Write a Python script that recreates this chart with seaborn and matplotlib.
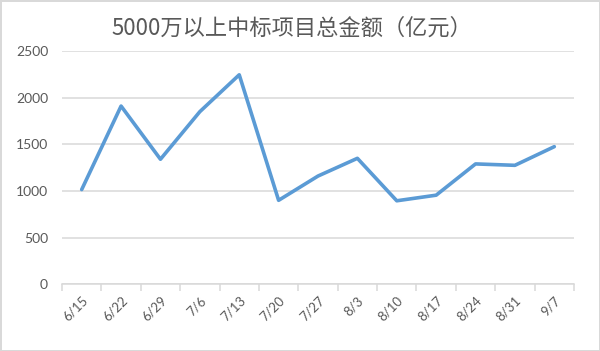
import matplotlib
matplotlib.use("Agg")
import matplotlib.pyplot as plt
import seaborn as sns
import pandas as pd
import numpy as np

dates = ["6/15", "6/22", "6/29", "7/6", "7/13", "7/20", "7/27",
         "8/3", "8/10", "8/17", "8/24", "8/31", "9/7"]
amounts = [1015, 1910, 1340, 1850, 2245, 900, 1160,
           1350, 895, 955, 1290, 1275, 1475]
y_ticks = [0, 500, 1000, 1500, 2000, 2500]
title = "5000万以上中标项目总金额（亿元）"

sns.set_theme(style="white")
plt.rcParams['font.family'] = ['Lato', 'Noto Sans CJK SC', 'DejaVu Sans']

df = pd.DataFrame({"date": dates, "amount": amounts})

fig = plt.figure(figsize=(6.0, 3.51), dpi=100)
fig.patch.set_facecolor("white")
fig.patch.set_edgecolor("#d9d9d9")
fig.patch.set_linewidth(2)
ax = fig.add_axes([62/600, 1 - 284.3/351, (574-62)/600, (284.3-51)/351])

sns.lineplot(data=df, x="date", y="amount", ax=ax, color="#5B9BD5",
             linewidth=2.6, sort=False, zorder=3)

ax.set_ylim(0, 2500)
ax.set_xlim(-0.5, len(dates) - 0.5)
ax.set_yticks(y_ticks)
ax.set_yticklabels([str(v) for v in y_ticks])
ax.yaxis.grid(True, color="#d9d9d9", linewidth=1.1)
ax.xaxis.grid(False)
for s in ["top", "right", "left"]:
    ax.spines[s].set_visible(False)
ax.spines["bottom"].set_color("#d9d9d9")
ax.spines["bottom"].set_linewidth(1.1)

ax.set_xticks(range(len(dates)))
ax.set_xticklabels(dates, rotation=45, ha="right", rotation_mode="anchor")
ax.set_xticks(np.arange(-0.5, len(dates), 1.0), minor=True)
ax.tick_params(axis="x", which="major", length=0, pad=7,
               labelsize=9.5, labelcolor="#595959")
ax.tick_params(axis="x", which="minor", length=5, width=1.1,
               color="#d9d9d9", direction="out", bottom=True)
ax.tick_params(axis="y", length=0, pad=10, labelsize=10, labelcolor="#595959")
for lab in ax.get_xticklabels():
    lab.set_transform(lab.get_transform() +
                      matplotlib.transforms.ScaledTranslation(0, 0, fig.dpi_scale_trans))
ax.set_xlabel("")
ax.set_ylabel("")

fig.text(292/600, 1 - 28/351, title, ha="center", va="center",
         fontsize=16, color="#595959",
         family=['Noto Sans CJK SC', 'DejaVu Sans'])

fig.savefig("out.png", dpi=100, facecolor="white", edgecolor="#d9d9d9")
